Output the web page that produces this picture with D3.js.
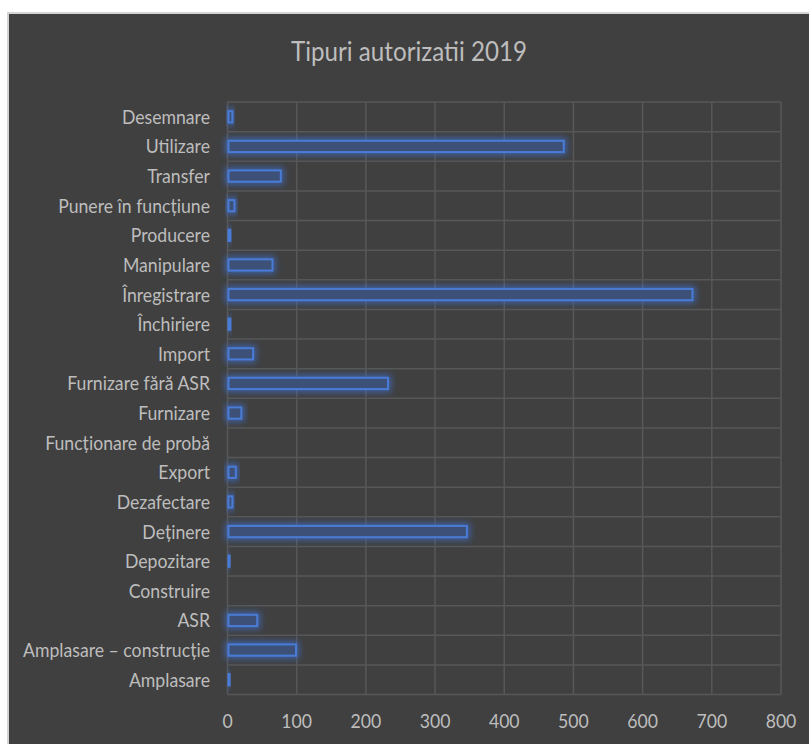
<!DOCTYPE html>
<html><head><meta charset="utf-8">
<script src="https://cdn.jsdelivr.net/npm/d3@7"></script>
<style>html,body{margin:0;padding:0;background:#fff;}svg{display:block;}</style>
</head><body>
<script>
const title = "Tipuri autorizatii 2019";
const categories = ["Desemnare","Utilizare","Transfer","Punere în funcțiune","Producere","Manipulare","Înregistrare","Închiriere","Import","Furnizare fără ASR","Furnizare","Funcționare de probă","Export","Dezafectare","Deținere","Depozitare","Construire","ASR","Amplasare – construcție","Amplasare"];
const values = [7,486,77,10,4,65,672,4,37,232,20,0,12,7,346,3,0,43,99,3];
const xTicks = [0,100,200,300,400,500,600,700,800];

const W = 809, H = 744;
const svg = d3.select("body").append("svg").attr("width", W).attr("height", H);
const fontFam = "Lato, 'Open Sans', sans-serif";

const defs = svg.append("defs");
const f = defs.append("filter").attr("id","glow").attr("x","-50%").attr("y","-150%").attr("width","200%").attr("height","400%");
f.append("feMorphology").attr("in","SourceAlpha").attr("operator","dilate").attr("radius",2).attr("result","d");
f.append("feGaussianBlur").attr("in","d").attr("stdDeviation",3.2).attr("result","b");
f.append("feFlood").attr("flood-color","#3d6fd0").attr("flood-opacity",0.7).attr("result","c");
f.append("feComposite").attr("in","c").attr("in2","b").attr("operator","in").attr("result","gl");
const m = f.append("feMerge");
m.append("feMergeNode").attr("in","gl");
m.append("feMergeNode").attr("in","SourceGraphic");

// panel
svg.append("rect").attr("x",7).attr("y",12).attr("width",W-7).attr("height",H-12).attr("fill","#d4d4d4");
svg.append("rect").attr("x",9).attr("y",14).attr("width",W-9).attr("height",H-14).attr("fill","#404040");

const x = d3.scaleLinear().domain([0,800]).range([227.5,781]);
const y = d3.scaleBand().domain(categories).range([102,694.5]).paddingInner(0.62).paddingOuter(0.31);

// grid
const g = svg.append("g");
g.selectAll("line.v").data(xTicks).join("line")
  .attr("x1",d=>x(d)).attr("x2",d=>x(d)).attr("y1",102).attr("y2",694.5)
  .attr("stroke","#575757").attr("stroke-width",1.5);
const hLines = d3.range(categories.length+1).map(i=>102+i*(694.5-102)/categories.length);
g.selectAll("line.h").data(hLines).join("line")
  .attr("x1",x(0)).attr("x2",x(800)).attr("y1",d=>d).attr("y2",d=>d)
  .attr("stroke","#575757").attr("stroke-width",1.5);

// bars
svg.append("g").selectAll("rect").data(categories.map((c,i)=>({c,v:values[i]})).filter(d=>d.v>0)).join("rect")
  .attr("x",x(0)+1).attr("y",d=>y(d.c))
  .attr("width",d=>Math.max(0.5,x(d.v)-x(0)-1)).attr("height",y.bandwidth())
  .attr("fill","#3c5178")
  .attr("stroke","#4a7bd6").attr("stroke-width",2)
  .attr("filter","url(#glow)");

function measure(str, size){
  const t = svg.append("text").style("font-family",fontFam).style("font-size",size+"px").text(str);
  const w = t.node().getComputedTextLength(); t.remove(); return w;
}
const labSize = 20;
const sx = 187 / measure("Amplasare – construcție", labSize);

// category labels
svg.append("g").selectAll("text").data(categories).join("text")
  .attr("transform",d=>`translate(210,${y(d)+y.bandwidth()/2}) scale(${sx},1)`)
  .attr("dy","0.35em")
  .attr("text-anchor","end").attr("fill","#bdbdbd")
  .style("font-family",fontFam).style("font-size",labSize+"px").text(d=>d);

// x tick labels
svg.append("g").selectAll("text").data(xTicks).join("text")
  .attr("transform",d=>`translate(${x(d)},721) scale(${sx},1)`)
  .attr("dy","0.35em").attr("text-anchor","middle")
  .attr("fill","#bdbdbd").style("font-family",fontFam).style("font-size",labSize+"px").text(d=>d);

// title
const tSize = 26;
const tsx = 236 / measure(title, tSize);
svg.append("text").attr("transform",`translate(409,61) scale(${tsx},1)`).attr("text-anchor","middle")
  .attr("fill","#bdbdbd").style("font-family",fontFam).style("font-size",tSize+"px").text(title);
</script>
</body></html>
